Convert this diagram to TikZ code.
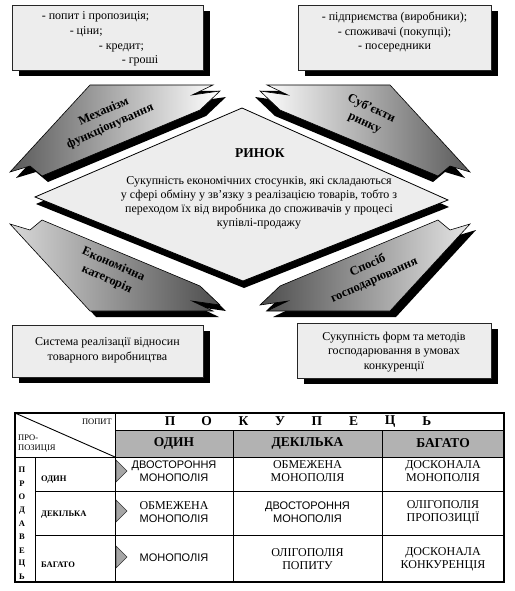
\documentclass[tikz,border=0pt]{standalone}
\usepackage{fontspec}
\setmainfont{Liberation Serif}
\setsansfont{Liberation Sans}
\usetikzlibrary{shadows,positioning}

\definecolor{panelgray}{gray}{0.93}
\definecolor{headgray}{gray}{0.7}

\tikzset{
  blackshadow/.style={drop shadow={shadow xshift=#1, shadow yshift=-6pt, fill=black, opacity=1}},
  infobox/.style={draw=black!85, fill=panelgray, line width=0.8pt, blackshadow=7pt, inner sep=0pt},
  boxtext/.style={font=\fontsize{12}{14.7}\selectfont, inner sep=0pt},
  bandstyle/.style={draw=black, line width=0.6pt},
  bandlabel/.style={font=\bfseries\fontsize{12.5}{16}\selectfont, align=center, inner sep=0pt},
  gridline/.style={line width=0.9pt},
  cell/.style={font=\fontsize{12}{13}\selectfont, align=center, inner sep=0pt},
  smalllabel/.style={font=\fontsize{8.5}{10}\selectfont, inner sep=0pt},
  rowlabel/.style={font=\bfseries\fontsize{8.5}{10}\selectfont, inner sep=0pt, anchor=west},
  headlabel/.style={font=\bfseries\fontsize{13.5}{15}\selectfont, inner sep=0pt},
  wedge/.style={draw=black!80, fill=gray!70, line width=0.5pt}
}

% one band of the market scheme, mirrored by #1 and #2 round (240,198)
\newcommand{\marketband}[5]{%
  \draw[bandstyle, left color=#4, right color=#5, blackshadow=#3]
    ({240+(#1)*(-150)},{198+(#2)*(-113)})
    -- ({240+(#1)*(-27)},{198+(#2)*(-113)})
    -- ({240+(#1)*(-48)},{198+(#2)*(-103)})
    -- ({240+(#1)*(-20)},{198+(#2)*(-107)})
    -- ({240+(#1)*(-40)},{198+(#2)*(-88)})
    -- ({240+(#1)*(-198)},{198+(#2)*(-22)})
    -- ({240+(#1)*(-210)},{198+(#2)*(-32)})
    -- ({240+(#1)*(-230)},{198+(#2)*(-26)})
    -- cycle;}

\begin{document}
\begin{tikzpicture}[x=1pt,y=-1pt]
\useasboundingbox (0,0) rectangle (514,591);

% boxes
\node[infobox, minimum width=191pt, minimum height=65pt] (mechbox) at (107.5,37.5) {};
\node[boxtext, align=left] (mechlist) at (100,39)
  {- попит і пропозиція;\\\hspace*{28pt}- ціни;\\\hspace*{57pt}- кредит;\\\hspace*{80pt}- гроші};
\node[infobox, minimum width=193pt, minimum height=65pt] (subjbox) at (394.5,37.5) {};
\node[boxtext, align=center] (subjlist) at (394.5,32)
  {- підприємства (виробники);\\- споживачі (покупці);\\- посередники};
\node[infobox, minimum width=191pt, minimum height=52pt] (econbox) at (107.5,351) {};
\node[boxtext, align=center] (econtext) at (107.5,350)
  {Система реалізації відносин\\товарного виробництва};
\node[infobox, minimum width=194pt, minimum height=55pt] (waybox) at (394,350.5) {};
\node[boxtext, align=center] (waytext) at (394,352)
  {Сукупність форм та методів\\господарювання в умовах\\конкуренції};

% bands
\marketband{1}{1}{6pt}{black!65}{white}
\marketband{-1}{1}{-5pt}{white}{black!65}
\marketband{1}{-1}{6pt}{black!15}{black!70}
\marketband{-1}{-1}{6pt}{black!70}{black!10}

\node[bandlabel, rotate=24] (mechlabel) at (107,119) {Механізм\\функціонування};
\node[bandlabel, rotate=-25] (subjlabel) at (368,116) {Суб’єкти\\ринку};
\node[bandlabel, rotate=-24] (econlabel) at (110,272) {Економічна\\категорія};
\node[bandlabel, rotate=24] (waylabel) at (371,273) {Спосіб\\господарювання};

% market
\draw[draw=black, line width=0.8pt, fill=panelgray,
      drop shadow={shadow xshift=1pt, shadow yshift=-7pt, fill=black, opacity=1}]
  (242,108) -- (448,200) -- (243,281) -- (35,197) -- cycle;
\node[font=\bfseries\fontsize{13.5}{15}\selectfont, inner sep=0pt] (market) at (260,153) {РИНОК};
\node[font=\fontsize{12}{14.2}\selectfont, align=center, inner sep=0pt] (marketdef) at (259,203)
  {Сукупність економічних стосунків, які складаються\\
   у сфері обміну у зв’язку з реалізацією товарів, тобто з\\
   переходом їх від виробника до споживачів у процесі\\
   купівлі-продажу};

% table
\fill[headgray] (115,430) rectangle (504,457);
\draw[gridline] (15,413) -- (115,457);
\draw[gridline] (115,413) -- (115,582);
\draw[gridline] (115,430) -- (504,430);
\draw[gridline] (15,457) -- (504,457);
\draw[gridline] (35,457) -- (35,582);
\draw[gridline] (35,491) -- (504,491);
\draw[gridline] (35,535) -- (504,535);
\foreach \x in {233,382}
  \draw[gridline] (\x,430) -- (\x,582);
\draw[line width=1.3pt] (15,413) rectangle (504,582);

\node[smalllabel, anchor=east] (demand) at (112,422) {ПОПИТ};
\node[smalllabel, anchor=west, align=left] (supply) at (18,443.5) {ПРО-\\ПОЗИЦІЯ};

\foreach \ch [count=\i] in {П,О,К,У,П,Е,Ц,Ь}
  \node[headlabel] (buyer\i) at ({170+(\i-1)*36.7},421.5) {\ch};
\foreach \ch [count=\i] in {П,Р,О,Д,А,В,Е,Ц,Ь}
  \node[font=\bfseries\fontsize{8.5}{10}\selectfont, inner sep=0pt] (seller\i) at (22,{470+(\i-1)*13.4}) {\ch};

\node[headlabel] (colone) at (174,443.5) {ОДИН};
\node[headlabel] (colfew) at (307.5,443.5) {ДЕКІЛЬКА};
\node[headlabel] (colmany) at (443,443.5) {БАГАТО};

\node[rowlabel] (rowone) at (41,480) {ОДИН};
\node[rowlabel] (rowfew) at (41,515) {ДЕКІЛЬКА};
\node[rowlabel] (rowmany) at (41,565) {БАГАТО};

\foreach \y in {471,511,557}
  \draw[wedge] (116,\y-11) -- (127,\y) -- (116,\y+11) -- cycle;

\node[cell, font=\sffamily\fontsize{11}{13}\selectfont] (c11) at (174,471) {ДВОСТОРОННЯ\\МОНОПОЛІЯ};
\node[cell] (c12) at (307.5,471) {ОБМЕЖЕНА\\МОНОПОЛІЯ};
\node[cell] (c13) at (443,471) {ДОСКОНАЛА\\МОНОПОЛІЯ};
\node[cell] (c21) at (174,512) {ОБМЕЖЕНА\\{\sffamily\fontsize{11}{13}\selectfont МОНОПОЛІЯ}};
\node[cell, font=\sffamily\fontsize{11}{13}\selectfont] (c22) at (307.5,512) {ДВОСТОРОННЯ\\МОНОПОЛІЯ};
\node[cell] (c23) at (443,512) {ОЛІГОПОЛІЯ\\ПРОПОЗИЦІЇ};
\node[cell, font=\sffamily\fontsize{11}{13}\selectfont] (c31) at (174,558) {МОНОПОЛІЯ};
\node[cell] (c32) at (307.5,559) {ОЛІГОПОЛІЯ\\ПОПИТУ};
\node[cell] (c33) at (443,559) {ДОСКОНАЛА\\КОНКУРЕНЦІЯ};
\end{tikzpicture}
\end{document}
